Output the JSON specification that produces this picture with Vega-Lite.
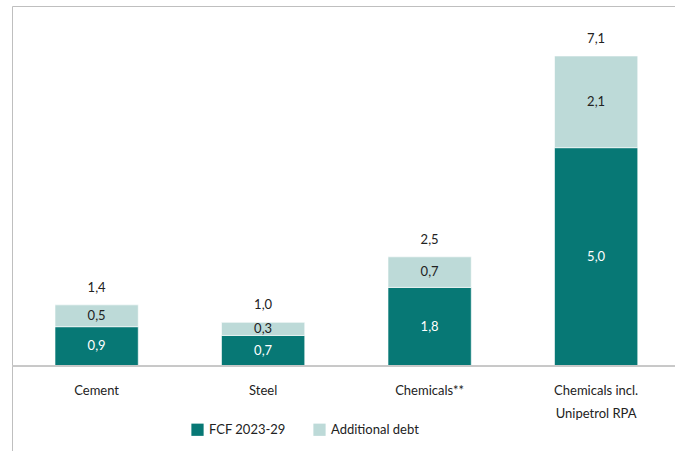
{
  "$schema": "https://vega.github.io/schema/vega-lite/v6.json",
  "width": 663,
  "height": 445,
  "padding": {"left": 12, "top": 6, "right": 0, "bottom": 0},
  "autosize": {"type": "none"},
  "config": {
    "view": {"stroke": "#bfbfbf", "strokeWidth": 1},
    "font": "Lato",
    "locale": {"number": {"decimal": ",", "thousands": ".", "grouping": [3], "currency": ["", " €"]}}
  },
  "data": {
    "values": [
      {"sector": "Cement", "series": "FCF 2023-29", "ord": 1, "value": 0.9, "total": 1.4},
      {"sector": "Cement", "series": "Additional debt", "ord": 2, "value": 0.5, "total": 1.4},
      {"sector": "Steel", "series": "FCF 2023-29", "ord": 1, "value": 0.7, "total": 1.0},
      {"sector": "Steel", "series": "Additional debt", "ord": 2, "value": 0.3, "total": 1.0},
      {"sector": "Chemicals**", "series": "FCF 2023-29", "ord": 1, "value": 1.8, "total": 2.5},
      {"sector": "Chemicals**", "series": "Additional debt", "ord": 2, "value": 0.7, "total": 2.5},
      {"sector": "Chemicals incl. Unipetrol RPA", "series": "FCF 2023-29", "ord": 1, "value": 5.0, "total": 7.1},
      {"sector": "Chemicals incl. Unipetrol RPA", "series": "Additional debt", "ord": 2, "value": 2.1, "total": 7.1}
    ]
  },
  "encoding": {
    "x": {
      "field": "sector", "type": "nominal", "sort": null,
      "scale": {"range": [43, 625.75], "paddingInner": 0.5, "paddingOuter": 0},
      "axis": {
        "title": null, "orient": "bottom", "offset": -85,
        "domain": false,
        "ticks": false, "labelAngle": 0, "labelPadding": 18,
        "labelFontSize": 13, "labelColor": "#222222", "labelFont": "Lato",
        "labelLineHeight": 23,
        "labelExpr": "datum.label == 'Chemicals incl. Unipetrol RPA' ? ['Chemicals incl.', 'Unipetrol RPA'] : datum.label"
      }
    }
  },
  "layer": [
    {
      "mark": {"type": "bar", "stroke": "white", "strokeWidth": 0.6},
      "encoding": {
        "y": {"field": "value", "type": "quantitative", "stack": "zero",
              "scale": {"domain": [-1.947, 8.245], "nice": false, "zero": false},
              "axis": null},
        "color": {
          "field": "series", "type": "nominal",
          "scale": {"domain": ["FCF 2023-29", "Additional debt"], "range": ["#077875", "#bddad8"]},
          "legend": {
            "title": null, "orient": "none", "direction": "horizontal",
            "legendX": 179, "legendY": 417,
            "symbolType": "square", "symbolSize": 150, "symbolStrokeWidth": 0,
            "labelFontSize": 13, "labelColor": "#222222", "labelFont": "Lato",
            "columnPadding": 27, "labelOffset": 5
          }
        },
        "order": {"field": "ord", "type": "quantitative"}
      }
    },
    {
      "mark": {"type": "rule", "color": "#c8c8c8", "strokeWidth": 1},
      "encoding": {"x": null, "y": {"datum": 0, "type": "quantitative"}}
    },
    {
      "transform": [
        {"stack": "value", "groupby": ["sector"], "sort": [{"field": "ord"}], "as": ["y0", "y1"]},
        {"calculate": "(datum.y0 + datum.y1) / 2", "as": "ymid"},
        {"calculate": "datum.ord == 1 ? '#ffffff' : '#222222'", "as": "tc"}
      ],
      "mark": {"type": "text", "fontSize": 13, "font": "Lato"},
      "encoding": {
        "y": {"field": "ymid", "type": "quantitative"},
        "text": {"field": "value", "type": "quantitative", "format": ".1f"},
        "color": {"field": "tc", "type": "nominal", "scale": null, "legend": null}
      }
    },
    {
      "transform": [{"filter": "datum.ord == 2"}],
      "mark": {"type": "text", "fontSize": 13, "font": "Lato", "dy": -17, "color": "#222222"},
      "encoding": {
        "y": {"field": "total", "type": "quantitative"},
        "text": {"field": "total", "type": "quantitative", "format": ".1f"}
      }
    }
  ]
}
